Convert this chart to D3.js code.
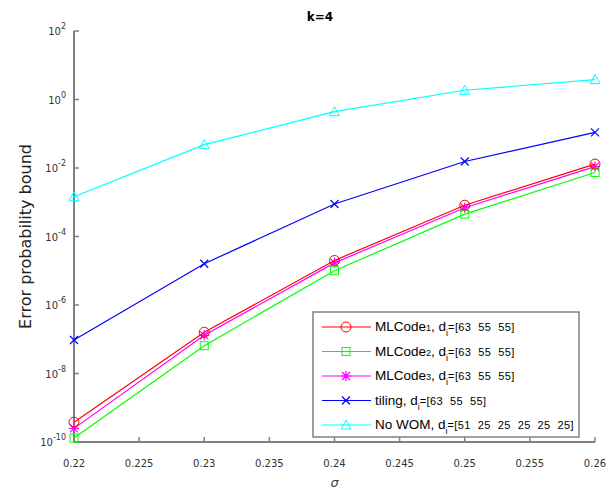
<!DOCTYPE html>
<html lang="en">
<head>
<meta charset="UTF-8">
<title>k=4</title>
<style>
    body { margin: 0; padding: 0; background: #fff; }
    svg text { font-family: "DejaVu Sans", sans-serif; }
    .tick-label { font-size: 10px; fill: #333; }
    .legend-text { font-family: "Liberation Sans", Arial, sans-serif; font-size: 13.5px; fill: #000; white-space: pre; }
</style>
</head>
<body>
<svg id="chart" width="615" height="493"></svg>

<script src="https://d3js.org/d3.v7.min.js"></script>
<script>
// sigma values on the x axis
const sigmas = [0.22, 0.23, 0.24, 0.25, 0.26];
const xTicks = [0.22, 0.225, 0.23, 0.235, 0.24, 0.245, 0.25, 0.255, 0.26];
const yExponents = [2, 0, -2, -4, -6, -8, -10];

// series values
const mlcode1 = [3.8e-10, 1.6e-7, 2.0e-5, 8.2e-4, 0.013];
const mlcode2 = [1.3e-10, 6.5e-8, 1.0e-5, 4.5e-4, 0.0074];
const mlcode3 = [2.5e-10, 1.3e-7, 1.7e-5, 6.9e-4, 0.011];
const tiling  = [9.5e-8, 1.6e-5, 8.9e-4, 0.0155, 0.11];
const noWom   = [1.45e-3, 0.048, 0.44, 1.86, 3.8];

const series = [
    { name: "MLCode", sub: "1", dims: "[63  55  55]", values: mlcode1, color: "#ff0000", marker: "circle" },
    { name: "MLCode", sub: "2", dims: "[63  55  55]", values: mlcode2, color: "#00ff00", marker: "square" },
    { name: "MLCode", sub: "3", dims: "[63  55  55]", values: mlcode3, color: "#ff00ff", marker: "star" },
    { name: "tiling", sub: "", dims: "[63  55  55]", values: tiling, color: "#0000ff", marker: "x" },
    { name: "No WOM", sub: "", dims: "[51  25  25  25  25  25]", values: noWom, color: "#00ffff", marker: "triangle" }
];

const margin = { top: 31, right: 20, bottom: 51, left: 74 };
const width = 615 - margin.left - margin.right;
const height = 493 - margin.top - margin.bottom;

const svg = d3.select("#chart");
const g = svg.append("g").attr("transform", "translate(" + margin.left + "," + margin.top + ")");

const x = d3.scaleLinear().domain([0.22, 0.26]).range([0, width]);
const y = d3.scaleLog().domain([1e-10, 1e2]).range([height, 0]);

const axisColor = "#808080";

// x axis
g.append("line")
    .attr("x1", 0).attr("x2", width)
    .attr("y1", height).attr("y2", height)
    .attr("stroke", axisColor).attr("stroke-width", 2);
xTicks.forEach(t => {
    g.append("line")
        .attr("x1", x(t)).attr("x2", x(t))
        .attr("y1", height).attr("y2", height - 5)
        .attr("stroke", axisColor).attr("stroke-width", 1.5);
    g.append("text")
        .attr("class", "tick-label")
        .attr("x", x(t)).attr("y", height + 25)
        .attr("text-anchor", "middle")
        .text(d3.format("")(t));
});

// y axis
g.append("line")
    .attr("x1", 0).attr("x2", 0)
    .attr("y1", 0).attr("y2", height)
    .attr("stroke", axisColor).attr("stroke-width", 2);
yExponents.forEach(e => {
    const yy = y(Math.pow(10, e));
    g.append("line")
        .attr("x1", 0).attr("x2", 5)
        .attr("y1", yy).attr("y2", yy)
        .attr("stroke", axisColor).attr("stroke-width", 1.5);
    const label = g.append("text")
        .attr("class", "tick-label")
        .attr("x", -8).attr("y", yy + 4)
        .attr("text-anchor", "end");
    label.append("tspan").text("10");
    label.append("tspan").attr("dy", -6).attr("font-size", 8).text(String(e));
});

// markers
function drawMarker(sel, type, color, cx, cy) {
    if (type === "circle") {
        sel.append("circle").attr("cx", cx).attr("cy", cy).attr("r", 5)
            .attr("fill", "none").attr("stroke", color);
    } else if (type === "square") {
        sel.append("rect").attr("x", cx - 4).attr("y", cy - 4).attr("width", 8).attr("height", 8)
            .attr("fill", "none").attr("stroke", color);
    } else if (type === "triangle") {
        sel.append("path")
            .attr("d", "M" + cx + "," + (cy - 5) + "L" + (cx + 5) + "," + (cy + 4) + "L" + (cx - 5) + "," + (cy + 4) + "Z")
            .attr("fill", "none").attr("stroke", color);
    } else if (type === "x") {
        sel.append("path")
            .attr("d", "M" + (cx - 4) + "," + (cy - 4) + "L" + (cx + 4) + "," + (cy + 4) +
                       "M" + (cx - 4) + "," + (cy + 4) + "L" + (cx + 4) + "," + (cy - 4))
            .attr("fill", "none").attr("stroke", color).attr("stroke-width", 1.2);
    } else if (type === "star") {
        sel.append("path")
            .attr("d", "M" + (cx - 4) + "," + (cy - 4) + "L" + (cx + 4) + "," + (cy + 4) +
                       "M" + (cx - 4) + "," + (cy + 4) + "L" + (cx + 4) + "," + (cy - 4) +
                       "M" + cx + "," + (cy - 5) + "L" + cx + "," + (cy + 5) +
                       "M" + (cx - 5) + "," + cy + "L" + (cx + 5) + "," + cy)
            .attr("fill", "none").attr("stroke", color).attr("stroke-width", 1.2);
    }
}

const line = d3.line()
    .x((d, i) => x(sigmas[i]))
    .y(d => y(d));

// draw in reverse so the red line sits on top
series.slice().reverse().forEach(s => {
    g.append("path")
        .datum(s.values)
        .attr("fill", "none")
        .attr("stroke", s.color)
        .attr("stroke-width", 1.2)
        .attr("d", line);
    s.values.forEach((v, i) => drawMarker(g, s.marker, s.color, x(sigmas[i]), y(v)));
});

// title
svg.append("text")
    .attr("x", 320).attr("y", 21)
    .attr("text-anchor", "middle")
    .attr("font-family", "Liberation Sans, Arial, sans-serif")
    .attr("font-weight", "bold")
    .attr("font-size", 12)
    .text("k=4");

// axis titles
svg.append("text")
    .attr("transform", "translate(31," + (margin.top + height / 2) + ") rotate(-90)")
    .attr("text-anchor", "middle")
    .attr("font-family", "Liberation Sans, Arial, sans-serif")
    .attr("font-size", 16)
    .attr("fill", "#222")
    .text("Error probability bound");

svg.append("text")
    .attr("x", margin.left + width / 2).attr("y", 487)
    .attr("text-anchor", "middle")
    .attr("font-family", "DejaVu Serif, serif")
    .attr("font-style", "italic")
    .attr("font-size", 13)
    .attr("fill", "#444")
    .text("σ");

// legend
const lg = svg.append("g");
const legX = 313, legY = 312, legW = 266, legH = 125, rowH = 24.5;
lg.append("rect")
    .attr("x", legX).attr("y", legY).attr("width", legW).attr("height", legH)
    .attr("fill", "#fff").attr("stroke", axisColor).attr("stroke-width", 1.5);
series.forEach((s, i) => {
    const ry = legY + 15 + i * rowH;
    lg.append("line")
        .attr("x1", legX + 9).attr("x2", legX + 58)
        .attr("y1", ry).attr("y2", ry)
        .attr("stroke", s.color).attr("stroke-width", 1.2);
    drawMarker(lg, s.marker, s.color, legX + 33, ry);
    const t = lg.append("text")
        .attr("class", "legend-text")
        .attr("x", legX + 62).attr("y", ry + 4);
    t.append("tspan").text(s.name);
    if (s.sub) t.append("tspan").attr("font-size", 9).text(s.sub);
    t.append("tspan").text(", d");
    t.append("tspan").attr("font-size", 9).attr("dy", 5).text("i");
    t.append("tspan").attr("font-size", 11).attr("letter-spacing", 0.4).attr("dy", -5).text("=" + s.dims);
});
</script>
</body>
</html>
